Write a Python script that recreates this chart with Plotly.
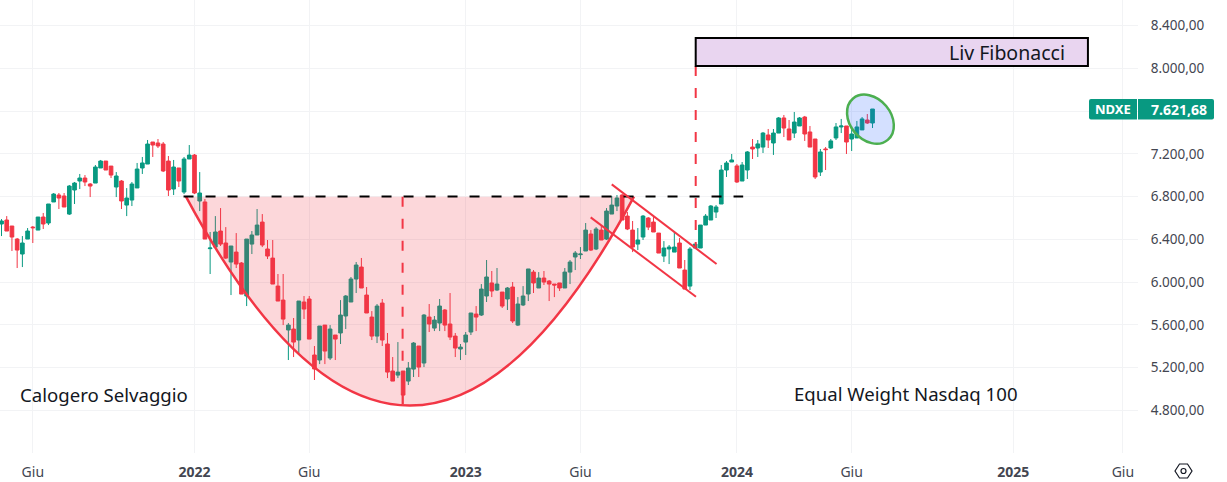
import math
from datetime import datetime, timedelta
import plotly.graph_objects as go

# Weekly OHLC, one value per week, first week 2021-04-19
opens = [6544,6581,6525,6403,6263,6403,6515,6487,6609,6553,6750,6815,6806,6637,6862,6946,6974,6918,6927,7068,
         7133,7086,6890,6946,6721,6768,6881,7068,7105,7311,7302,7292,7133,6871,7068,6843,7152,7189,6759,6750,
         6313,6328,6478,6366,6188,6281,6179,5870,6356,6441,6562,6310,6225,5963,5832,5552,5561,5458,5814,5842,
         5318,5271,5598,5290,5505,5524,5683,5814,6029,6141,5879,5673,5495,5804,5421,5168,5130,5168,5074,5186,
         5402,5243,5673,5570,5617,5739,5608,5495,5374,5439,5533,5701,5692,5870,5992,5926,5907,5842,5954,5598,
         5786,5889,6094,5945,6038,6010,5982,5992,5945,6094,6235,6257,6291,6450,6310,6487,6403,6637,6712,6815,
         6618,6487,6356,6422,6600,6562,6459,6244,6310,6281,6366,6113,5963,6319,6319,6534,6581,6656,6731,7049,
         7124,7087,6946,7049,7264,7255,7264,7377,7302,7395,7536,7433,7395,7461,7545,7405,7339,7030,7246,7255,
         7349,7452,7461,7339,7349,7424,7517,7489]
highs = [6590,6618,6525,6413,6431,6506,6525,6609,6647,6731,6834,6834,6834,6909,6937,7012,7002,6927,7096,7143,
         7133,7086,7030,6955,6880,6937,7115,7171,7330,7311,7339,7311,7180,7143,7068,7171,7283,7199,7030,6778,
         6469,6618,6693,6515,6338,6459,6188,6403,6478,6684,6637,6394,6394,6076,6076,5617,5664,5823,5870,5870,
         5402,5589,5598,5598,5505,5832,5879,6048,6188,6226,5954,5729,5795,5842,5524,5299,5439,5168,5252,5439,
         5402,5701,5795,5683,5842,5748,5898,5524,5421,5533,5711,5776,5982,6207,6104,6132,5907,5954,6001,5860,
         5963,6123,6113,6094,6104,6020,5982,5992,6132,6207,6291,6328,6553,6487,6515,6525,6693,6806,6815,6824,
         6656,6572,6506,6628,6609,6609,6459,6384,6347,6469,6413,6207,6328,6356,6534,6637,6721,6722,7096,7133,
         7199,7105,7124,7227,7339,7330,7405,7433,7433,7545,7564,7517,7592,7545,7555,7461,7339,7246,7264,7339,
         7489,7527,7461,7461,7508,7545,7573,7620]
lows = [6431,6478,6291,6132,6141,6403,6366,6487,6497,6534,6750,6684,6703,6628,6731,6871,6899,6796,6927,7068,
        7049,6974,6796,6684,6618,6712,6881,7012,7105,7171,7255,7030,6806,6815,6890,6824,7152,6824,6665,6403,
        6076,6328,6338,6216,5879,6132,5888,5776,6263,6441,6328,6216,5982,5823,5598,5271,5299,5336,5655,5467,
        5084,5233,5233,5271,5271,5421,5561,5814,5898,5945,5711,5458,5430,5402,5102,5074,5102,4859,5037,5112,
        5112,5205,5533,5542,5542,5542,5458,5299,5271,5318,5505,5542,5683,5814,5860,5917,5758,5739,5617,5589,
        5776,5823,5898,5945,5973,5823,5860,5917,5945,5982,6113,6216,6291,6291,6300,6394,6394,6637,6665,6581,
        6487,6281,6300,6394,6487,6469,6272,6188,6169,6281,6132,5935,5926,6319,6319,6534,6581,6600,6731,6984,
        7124,6928,6946,6965,7152,7171,7208,7255,7190,7395,7358,7330,7349,7461,7321,7264,6965,6993,7049,7246,
        7330,7395,7199,7227,7349,7424,7480,7442]
closes = [6572,6478,6422,6300,6366,6478,6509,6609,6544,6731,6824,6787,6703,6899,6927,6974,6937,6899,7077,7133,
          7049,7002,6993,6759,6787,6918,7058,7115,7292,7283,7274,7040,6862,7077,6946,7152,7189,6834,6834,6403,
          6319,6469,6356,6225,6338,6169,5888,6403,6441,6534,6347,6244,5982,5823,5654,5598,5439,5823,5748,5467,
          5187,5589,5355,5561,5467,5692,5870,6029,6160,5945,5711,5495,5776,5458,5158,5074,5158,4943,5196,5430,
          5205,5692,5608,5645,5776,5598,5486,5383,5392,5505,5711,5673,5935,6048,5917,5982,5776,5945,5636,5795,
          5870,6123,5992,6038,6001,5982,5973,5945,6094,6188,6272,6263,6487,6300,6497,6394,6665,6721,6787,6581,
          6497,6328,6394,6618,6515,6469,6272,6319,6328,6328,6132,5935,6310,6356,6534,6618,6712,6703,7049,7115,
          7143,6937,7096,7218,7246,7293,7395,7330,7395,7536,7442,7330,7498,7536,7386,7264,6984,7218,7240,7321,
          7452,7461,7311,7386,7452,7527,7489,7620]

price_ticks = [4800,5200,5600,6000,6400,6800,7200,7600,8000,8400]
price_tick_labels = ["4.800,00","5.200,00","5.600,00","6.000,00","6.400,00","6.800,00","7.200,00","","8.000,00","8.400,00"]
time_ticks = ["2021-05-31","2022-01-03","2022-06-06","2023-01-02","2023-06-05","2024-01-01","2024-06-03","2025-01-06","2025-06-02"]
time_tick_labels = ["Giu","<b>2022</b>","Giu","<b>2023</b>","Giu","<b>2024</b>","Giu","<b>2025</b>","Giu"]

GREEN = "#089981"
RED = "#F23645"
FONT = "Noto Sans"
W, H = 1227, 482
PLOT_W, PLOT_H = 1138, 453

BASE = datetime(2022, 1, 3)
WEEK_PX = 5.216          # px per week
PRICE_PER_PX = 9.36      # price units per px


def wk(i):
    return (BASE + timedelta(days=7 * i)).strftime("%Y-%m-%d_%H:%M:%S")


def wkr(i):
    return wk(i).replace("_", " ")


dates = [(BASE + timedelta(days=7 * (i - 37))).strftime("%Y-%m-%d") for i in range(len(opens))]

fig = go.Figure()
fig.add_trace(go.Candlestick(
    x=dates, open=opens, high=highs, low=lows, close=closes,
    increasing=dict(line=dict(color=GREEN, width=1), fillcolor=GREEN),
    decreasing=dict(line=dict(color=RED, width=1), fillcolor=RED),
    showlegend=False, hoverinfo="skip",
))

shapes = []


def line(i0, p0, i1, p1, color, width=2, dash="solid"):
    shapes.append(dict(type="line", xref="x", yref="y", x0=wkr(i0), y0=p0, x1=wkr(i1), y1=p1,
                       line=dict(color=color, width=width, dash=dash)))


# rounded cup
shapes.append(dict(type="path", xref="x", yref="y",
                   path=f"M{wk(-1.63)},6800 Q{wk(41.3)},2890 {wk(84.26)},6800 Z",
                   fillcolor="rgba(242,54,69,0.2)", line=dict(width=0)))
shapes.append(dict(type="path", xref="x", yref="y",
                   path=f"M{wk(-1.63)},6800 Q{wk(41.3)},2890 {wk(84.26)},6800",
                   line=dict(color=RED, width=2.5)))
line(-2.1, 6801, 105.2, 6801, "#000000", 2, "10px,12px")
line(39.9, 6800, 39.9, 4860, RED, 2, "10px,12px")
line(96.1, 8023, 96.1, 6328, RED, 2, "10px,12px")
# flag channel
line(80.0, 6915, 100.1, 6169, RED, 2)
line(75.96, 6606, 96.15, 5863, RED, 2)
# target box
shapes.append(dict(type="rect", xref="x", yref="y", x0=wkr(96.1), x1=wkr(171.3), y0=8023, y1=8285,
                   fillcolor="#E9D5F0", line=dict(color="#000000", width=2)))


# rotated ellipse
def ellipse_path(ci, cp, a, b, deg):
    k = 0.5523
    t = math.radians(deg)
    def pt(u, v):
        dx = u * a * math.cos(t) - v * b * math.sin(t)
        dy = u * a * math.sin(t) + v * b * math.cos(t)
        return f"{wk(ci + dx / WEEK_PX)},{cp - dy * PRICE_PER_PX:.1f}"
    return (f"M{pt(1,0)} C{pt(1,k)} {pt(k,1)} {pt(0,1)} C{pt(-k,1)} {pt(-1,k)} {pt(-1,0)} "
            f"C{pt(-1,-k)} {pt(-k,-1)} {pt(0,-1)} C{pt(k,-1)} {pt(1,-k)} {pt(1,0)} Z")


shapes.append(dict(type="path", xref="x", yref="y", path=ellipse_path(129.6, 7525, 27, 20.5, 50),
                   fillcolor="rgba(41,98,255,0.2)", line=dict(color="#4CAF50", width=2.5)))


def px(x, y):
    return f"{x / PLOT_W:.5f},{1 - y / PLOT_H:.5f}"


def round_rect(x0, y0, x1, y1, rl, rr):
    return (f"M{px(x0 + rl, y0)} L{px(x1 - rr, y0)} Q{px(x1, y0)} {px(x1, y0 + rr)} "
            f"L{px(x1, y1 - rr)} Q{px(x1, y1)} {px(x1 - rr, y1)} L{px(x0 + rl, y1)} "
            f"Q{px(x0, y1)} {px(x0, y1 - rl)} L{px(x0, y0 + rl)} Q{px(x0, y0)} {px(x0 + rl, y0)} Z")


# last price label
shapes.append(dict(type="path", xref="paper", yref="paper", path=round_rect(1089, 99, 1137, 119.5, 2, 0),
                   fillcolor=GREEN, line=dict(width=0)))
shapes.append(dict(type="path", xref="paper", yref="paper", path=round_rect(1138, 99, 1214, 119.5, 0, 2),
                   fillcolor=GREEN, line=dict(width=0)))

# settings icon
cx, cy = 1183.5, 471
hex_pts = [(cx - 8.5, cy), (cx - 4, cy - 7), (cx + 4, cy - 7), (cx + 8.5, cy), (cx + 4, cy + 7), (cx - 4, cy + 7)]
shapes.append(dict(type="path", xref="paper", yref="paper",
                   path="M" + " L".join(px(a, b) for a, b in hex_pts) + " Z",
                   line=dict(color="#131722", width=1.2)))
shapes.append(dict(type="circle", xref="paper", yref="paper",
                   x0=(cx - 2.5) / PLOT_W, x1=(cx + 2.5) / PLOT_W,
                   y0=1 - (cy + 2.5) / PLOT_H, y1=1 - (cy - 2.5) / PLOT_H,
                   line=dict(color="#131722", width=1.2)))


def label(text, x, y, size, color="#131722", anchor="left"):
    return dict(text=text, xref="paper", yref="paper", x=x / PLOT_W, y=1 - y / PLOT_H,
                xanchor=anchor, yanchor="middle", showarrow=False,
                font=dict(family=FONT, size=size, color=color))


annotations = [
    label("Calogero Selvaggio", 18, 394, 18.6),
    label("Equal Weight Nasdaq 100", 792, 393, 18.6),
    label("Liv Fibonacci", 1067, 52, 19.5, anchor="right"),
    label("<b>NDXE</b>", 1113, 109, 13, "#FFFFFF", "center"),
    label("<b>7.621,68</b>", 1179, 109, 14, "#FFFFFF", "center"),
]

fig.update_layout(
    width=W, height=H,
    margin=dict(l=0, r=W - PLOT_W, t=0, b=H - PLOT_H, pad=0),
    paper_bgcolor="#FFFFFF", plot_bgcolor="#FFFFFF",
    showlegend=False, shapes=shapes, annotations=annotations,
    boxmode="overlay", boxgap=0.3, boxgroupgap=0,
    font=dict(family=FONT, size=13, color="#434651"),
    xaxis=dict(
        type="date", rangeslider=dict(visible=False),
        range=[wkr(-37.29), wkr(180.9)],
        tickmode="array", tickvals=time_ticks, ticktext=time_tick_labels,
        showgrid=True, gridcolor="#F2F3F5", gridwidth=1, zeroline=False, showline=False,
        ticks="outside", ticklen=6, tickcolor="rgba(0,0,0,0)",
        tickfont=dict(family=FONT, size=14, color="#434651"),
    ),
    yaxis=dict(
        side="right", range=[4401, 8640],
        tickmode="array", tickvals=price_ticks, ticktext=price_tick_labels,
        showgrid=True, gridcolor="#F2F3F5", gridwidth=1, zeroline=False, showline=False,
        ticks="outside", ticklen=9, tickcolor="rgba(0,0,0,0)",
        tickfont=dict(family=FONT, size=13.5, color="#434651"),
    ),
)

fig.write_html("out.html", config={"displayModeBar": False},
               post_script="document.body.style.margin='0';document.documentElement.style.overflow='hidden';")
